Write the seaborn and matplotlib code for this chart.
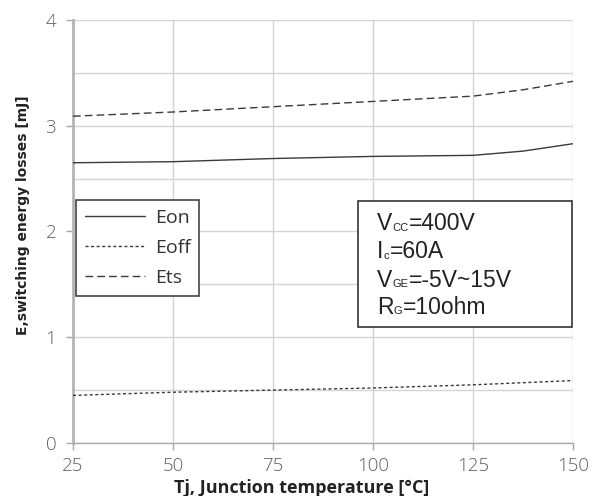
import numpy as np
import pandas as pd
import seaborn as sns
import matplotlib
matplotlib.use("Agg")
import matplotlib.pyplot as plt
from matplotlib.lines import Line2D

# Switching energy losses vs junction temperature
tj = [25, 50, 75, 100, 125, 137.5, 150]
e_on = [2.65, 2.66, 2.69, 2.71, 2.72, 2.76, 2.83]
e_off = [0.45, 0.48, 0.50, 0.52, 0.55, 0.57, 0.59]
e_ts = [3.09, 3.13, 3.18, 3.23, 3.28, 3.34, 3.42]

series_names = ["Eon", "Eoff", "Ets"]
x_ticks = [25, 50, 75, 100, 125, 150]
y_ticks = [0, 1, 2, 3, 4]

df = pd.DataFrame({
    "Tj": tj * 3,
    "E": e_on + e_off + e_ts,
    "series": [s for s in series_names for _ in tj],
})

sns.set_theme(style="white")
plt.rcParams["font.family"] = ["Open Sans", "DejaVu Sans"]

fig = plt.figure(figsize=(6.04, 4.96), dpi=100)
ax = fig.add_axes([0.1209, 0.1069, 0.8278, 0.8528])

line_col = "#3a3a3a"
dash_map = {"Eon": "", "Eoff": (2.2, 1.8), "Ets": (5.5, 3.0)}
sns.lineplot(data=df, x="Tj", y="E", style="series", dashes=dash_map,
             color=line_col, linewidth=1.0, legend=False, ax=ax, zorder=3)

ax.set_xlim(25, 150)
ax.set_ylim(0, 4)
ax.set_xticks(x_ticks)
ax.set_yticks(y_ticks)
ax.set_yticks(np.arange(0.5, 4, 1.0), minor=True)

grid_col = "#d4d4d4"
ax.grid(True, which="major", color=grid_col, linewidth=1.0, zorder=0)
ax.grid(True, which="minor", axis="y", color=grid_col, linewidth=1.0, zorder=0)
ax.set_axisbelow(True)

for side in ["top", "right"]:
    ax.spines[side].set_visible(False)
ax.spines["left"].set_color("#b4b4b4")
ax.spines["left"].set_linewidth(2.0)
ax.spines["bottom"].set_color("#a8a8a8")
ax.spines["bottom"].set_linewidth(1.0)

ax.tick_params(axis="both", which="major", direction="out", length=5,
               width=1.0, color="#a8a8a8", labelcolor="#606060",
               labelsize=13.5, bottom=True, left=True)
ax.tick_params(axis="y", which="major", pad=7)
ax.tick_params(axis="x", which="major", pad=5)
ax.tick_params(axis="y", which="minor", length=0)
for lbl in ax.get_xticklabels() + ax.get_yticklabels():
    lbl.set_fontweight("light")

ax.set_xlabel("Tj, Junction temperature [°C]", fontsize=13, fontweight="bold",
              color="#222222")
ax.set_ylabel("E,switching energy losses [mJ]", fontsize=10, fontweight="bold",
              color="#222222", family=["DejaVu Sans"])
ax.xaxis.label.set_va("center")
ax.yaxis.label.set_va("center")
ax.xaxis.set_label_coords(0.458, -0.106)
ax.yaxis.set_label_coords(-0.10, 0.539)

# legend
handles = [Line2D([], [], color=line_col, linewidth=1.0, linestyle="-"),
           Line2D([], [], color=line_col, linewidth=1.0, linestyle=(0, (2.2, 1.8))),
           Line2D([], [], color=line_col, linewidth=1.0, linestyle=(0, (5.5, 3.0)))]
leg = ax.legend(handles, series_names, loc="upper left",
                bbox_to_anchor=(0.006, 0.5745), borderaxespad=0,
                fontsize=14, frameon=True, fancybox=False,
                handlelength=3.1, handletextpad=0.5, labelspacing=0.62,
                borderpad=0.45, labelcolor="#333333")
leg.get_frame().set_edgecolor("#444444")
leg.get_frame().set_linewidth(1.2)
leg.get_frame().set_facecolor("white")
leg.get_frame().set_alpha(1)

# condition box
box_left, box_right = 0.57, 0.998
box_top, box_bot = 0.573, 0.275
ax.add_patch(plt.Rectangle((box_left, box_bot), box_right - box_left, box_top - box_bot,
                           transform=ax.transAxes, facecolor="white",
                           edgecolor="#333333", linewidth=1.2, zorder=5))

cond_lines = [("V", "CC", "=400V"), ("I", "c", "=60A"),
              ("V", "GE", "=-5V~15V"), ("R", "G", "=10ohm")]
cond_font = ["Liberation Sans", "DejaVu Sans"]
main_fs, sub_fs = 16.5, 8
lift = (main_fs - sub_fs) * 0.21
tx = 0.608
baselines = [0.5035, 0.437, 0.369, 0.305]
for (m, sub, rest), y in zip(cond_lines, baselines):
    t1 = ax.text(tx, y, m, transform=ax.transAxes, fontsize=main_fs,
                 family=cond_font, color="#222222", va="baseline", zorder=6)
    t2 = ax.annotate(sub, xy=(1, 0), xycoords=t1, xytext=(0.3, lift),
                     textcoords="offset points", fontsize=sub_fs, family=cond_font,
                     color="#222222", va="bottom", zorder=6)
    ax.annotate(rest, xy=(1, 0), xycoords=t2, xytext=(0.3, -lift),
                textcoords="offset points", fontsize=main_fs, family=cond_font,
                color="#222222", va="bottom", zorder=6)

fig.savefig("out.png", dpi=100, facecolor="white")
